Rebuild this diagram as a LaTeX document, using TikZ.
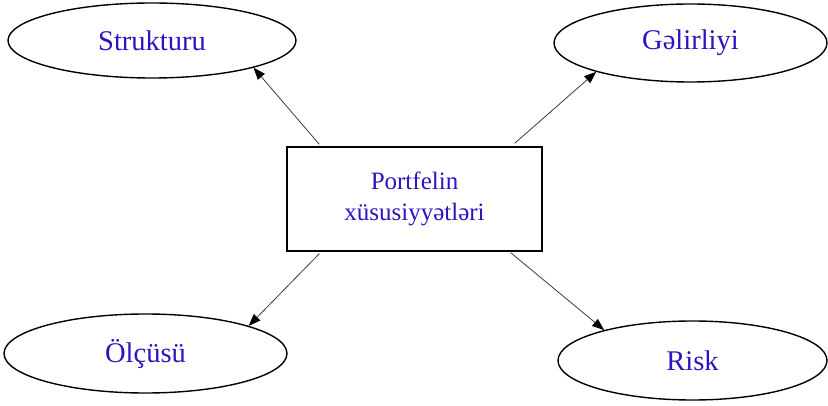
\documentclass[tikz,border=0pt]{standalone}
\usepackage{fontspec}
\setmainfont{Liberation Serif}
\usetikzlibrary{shapes.geometric,arrows.meta}
\definecolor{txtblue}{RGB}{45,20,190}
\definecolor{arrgray}{RGB}{60,60,60}
\tikzset{
  oval/.style={draw=black, line width=1.4pt, ellipse, inner sep=0pt, text=txtblue, font=\fontsize{28.5}{32}\selectfont},
  mainbox/.style={draw=black, line width=1.4pt, rectangle, inner sep=0pt, text=txtblue, align=center, font=\fontsize{25}{31}\selectfont},
  conn/.style={draw=arrgray, line width=0.8pt, -{Triangle[length=12pt,width=9pt,color=black]}}
}
\begin{document}
\begin{tikzpicture}[x=1pt,y=-1pt]
\useasboundingbox (0,0) rectangle (828,406);
\node[oval, minimum width=288pt, minimum height=75pt] (s) at (152,40.5) {Strukturu};
\node[oval, minimum width=273pt, minimum height=78pt] (g) at (690.5,43) {Gəlirliyi};
\node[oval, minimum width=283pt, minimum height=79pt] (o) at (145.5,353.5) {Ölçüsü};
\node[oval, minimum width=269pt, minimum height=79pt] (r) at (692.5,360.5) {Risk};
\node[mainbox, minimum width=255pt, minimum height=104pt] (b) at (414.5,199) {Portfelin\\xüsusiyyətləri};
\draw[conn] ([xshift=33pt,yshift=2pt]b.north west) -- (s.-15);
\draw[conn] ([xshift=-28pt,yshift=3pt]b.north east) -- (g.-163);
\draw[conn] ([xshift=33pt,yshift=-2pt]b.south west) -- (o.15);
\draw[conn] ([xshift=-32pt,yshift=-1pt]b.south east) -- (r.161);
\end{tikzpicture}
\end{document}
